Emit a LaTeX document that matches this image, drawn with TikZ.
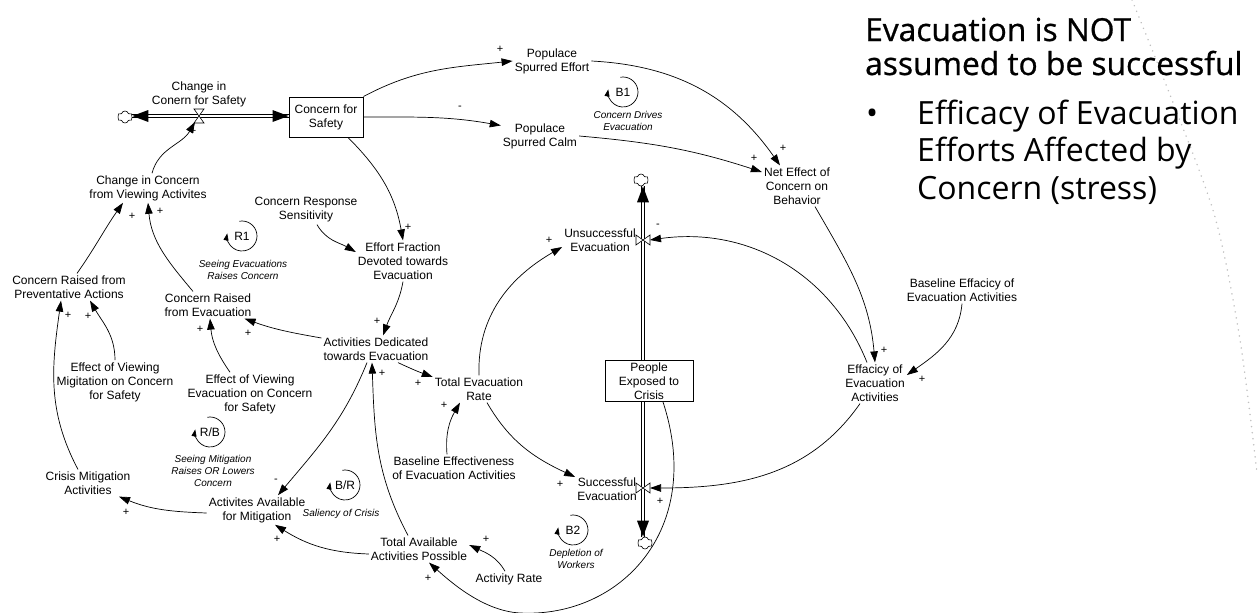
\documentclass[tikz,border=0pt]{standalone}
\usepackage{fontspec}
\setmainfont{Liberation Sans}
\newfontfamily\osans{Open Sans}
\newfontfamily\osanst[FakeBold=0.8]{Open Sans}
\usetikzlibrary{arrows.meta,shapes.symbols,calc}
\newcommand\vfnt{\fontsize{12}{14}\selectfont}
\newcommand\lfnt{\fontsize{10}{12}\selectfont\itshape}
\newcommand\pfnt{\fontsize{11}{12}\selectfont}
\newcommand\tfnt{\fontsize{31.7}{32}\selectfont}
\newcommand\bfnt{\fontsize{32}{32}\selectfont}
\begin{document}
\begin{tikzpicture}[x=1pt,y=1pt,
  var/.style={align=center, font=\vfnt, inner sep=2pt},
  stockbox/.style={draw, line width=1pt, align=center, font=\vfnt, inner sep=1pt},
  lnk/.style={line width=0.7pt, -{Triangle[length=11pt,width=7.5pt]}},
  looparr/.style={line width=0.7pt, -{Triangle[length=7pt,width=5pt]}},
  pol/.style={font=\pfnt, inner sep=0pt},
  looplbl/.style={align=center, font=\lfnt, inner sep=0pt},
  loopid/.style={font=\vfnt, inner sep=0pt},
  pipe/.style={line width=0.7pt, double, double distance=2.6pt},
  cloudnode/.style={cloud, draw, cloud puffs=6, minimum width=15pt, minimum height=12pt, inner sep=0pt, line width=0.6pt},
  valve/.style={draw, fill=white, line width=0.6pt},
  rtext/.style={anchor=base west, inner sep=0pt},
  ftip/.pic={\fill (0,0) -- (-16,6) -- (-16,-6) -- cycle;},
  loopsym/.pic={\draw[looparr] (100:15) arc[start angle=100,end angle=-190,radius=15];}
]
\useasboundingbox (0,0) rectangle (1259,-613);

% dotted slide border
\draw[gray!50, line width=1.6pt, line cap=round, dash pattern=on 0.1pt off 6pt]
  plot[smooth] coordinates {(1132,0) (1172,-100) (1215,-217) (1240,-340) (1257,-473)};

% ---------- nodes ----------
\node[cloudnode] (cloudL) at (125,-117) {};
\node[stockbox, minimum width=74pt, minimum height=40pt] (csafe) at (326,-117) {Concern for\\Safety};
\coordinate (vC) at (199,-116);
\node[var] (chlbl) at (199,-94) {Change in\\Conern for Safety};

\node[var] (chview) at (148,-188) {Change in Concern\\from Viewing Activites};
\node[var] (crprev) at (69,-287) {Concern Raised from\\Preventative Actions};
\node[var] (crevac) at (208,-305) {Concern Raised\\from Evacuation};
\node[var] (effmig) at (115,-382) {Effect of Viewing\\Migitation on Concern\\for Safety};
\node[var] (effevac) at (250,-394) {Effect of Viewing\\Evacuation on Concern\\for Safety};
\node[var] (crisis) at (88,-483) {Crisis Mitigation\\Activities};
\node[var] (avail) at (257,-510) {Activites Available\\for Mitigation};
\node[var] (total) at (419,-549) {Total Available\\Activities Possible};
\node[var] (actrate) at (509,-579) {Activity Rate};
\node[var] (crs) at (306,-210) {Concern Response\\Sensitivity};
\node[var] (efffrac) at (403,-261) {Effort Fraction\\Devoted towards\\Evacuation};
\node[var] (actded) at (376,-349) {Activities Dedicated\\towards Evacuation};
\node[var] (ter) at (479,-389) {Total Evacuation\\Rate};
\node[var] (bee) at (454,-468) {Baseline Effectiveness\\of Evacuation Activities};
\node[var] (succ) at (607,-489) {Successful\\Evacuation};
\node[var] (unsucc) at (600,-240) {Unsuccessful\\Evacuation};
\node[stockbox, minimum width=88pt, minimum height=41pt] (people) at (649,-381) {People\\Exposed to\\Crisis};
\node[cloudnode] (cloudT) at (641,-180) {};
\node[cloudnode] (cloudB) at (645,-543) {};
\coordinate (vU) at (643,-240);
\coordinate (vS) at (643,-488);
\node[var] (pse) at (552,-61) {Populace\\Spurred Effort};
\node[var] (psc) at (540,-136) {Populace\\Spurred Calm};
\node[var] (neteff) at (797,-186) {Net Effect of\\Concern on\\Behavior};
\node[var] (efficacy) at (875,-383) {Effacicy of\\Evacuation\\Activities};
\node[var] (beff) at (962,-290) {Baseline Effacicy of\\Evacuation Activities};

% ---------- flows ----------
\draw[pipe] (cloudL.east |- vC) -- (csafe.west |- vC);
\pic[rotate=180] at (cloudL.east |- vC) {ftip};
\pic at (csafe.west |- vC) {ftip};
\draw[valve] ($(vC)+(-5,7)$) -- ++(10,0) -- ++(-10,-14) -- ++(10,0) -- cycle;

\draw[pipe] (people.north -| vU) -- (cloudT.south -| vU);
\pic[rotate=90] at (cloudT.south -| vU) {ftip};
\draw[pipe] (people.south -| vU) -- (cloudB.north -| vU);
\pic[rotate=-90] at (cloudB.north -| vU) {ftip};
\draw[valve] ($(vU)+(-7,5)$) -- ++(0,-10) -- ++(14,10) -- ++(0,-10) -- cycle;
\draw[valve] ($(vS)+(-7,5)$) -- ++(0,-10) -- ++(14,10) -- ++(0,-10) -- cycle;

% ---------- links ----------
\draw[lnk] (csafe.north east) to[out=28,in=186] (pse.west);
\node[pol] (p1) at (500,-49) {+};
\draw[lnk] (csafe.east) to[out=0,in=170] (psc.165);
\node[pol] (p2) at (460,-108) {-};
\draw[lnk] (pse.east) to[out=-3,in=125] ([xshift=-17pt]neteff.north);
\node[pol] (p3) at (783,-148) {+};
\draw[lnk] (psc.east) to[out=-5,in=162] ([yshift=14pt]neteff.west);
\node[pol] (p4) at (754,-158) {+};
\draw[lnk] ([xshift=18pt]neteff.south) to[out=-60,in=95] (efficacy.north);
\node[pol] (p5) at (884,-350) {+};
\draw[lnk] (beff.south) to[out=-95,in=35] ([yshift=8pt]efficacy.east);
\node[pol] (p6) at (922,-379) {+};
\draw[lnk] ([xshift=-8pt]efficacy.north) to[out=112,in=8] ($(vU)+(7,0)$);
\node[pol] (p7) at (658,-226) {-};
\draw[lnk] ([xshift=-15pt]efficacy.south) to[out=-125,in=0] ($(vS)+(7,0)$);
\node[pol] (p8) at (660,-501) {+};
\draw[lnk] (ter.north) to[out=92,in=210] ([yshift=-7pt]unsucc.west);
\node[pol] (p9) at (549,-240) {+};
\draw[lnk] ([xshift=8pt]ter.south) to[out=-60,in=155] ([yshift=12pt]succ.west);
\node[pol] (p10) at (560,-484) {+};
\draw[lnk] ([xshift=22pt]actded.south) to[out=-25,in=160] ([yshift=12pt]ter.west);
\node[pol] (p11) at (418,-383) {+};
\draw[lnk] (efffrac.south) to[out=-100,in=70] ([xshift=7pt]actded.north);
\node[pol] (p12) at (377,-321) {+};
\draw[lnk] ([xshift=22pt]csafe.south) to[out=-45,in=100] (efffrac.north);
\node[pol] (p13) at (408,-227) {+};
\draw[lnk] ([xshift=11pt]crs.south) to[out=-60,in=150] ([yshift=9pt]efffrac.west);
\draw[lnk] ([xshift=4pt]chview.north) to[out=75,in=-120] ($(vC)+(-4,-6)$);
\node[pol] (p14) at (193,-131) {+};
\draw[lnk] ([xshift=8pt]crprev.north) to[out=55,in=-125] ([xshift=-25pt]chview.south);
\node[pol] (p15) at (132,-216) {+};
\draw[lnk] ([xshift=-15pt]crevac.north) to[out=130,in=-85] (chview.south);
\node[pol] (p16) at (160,-211) {+};
\draw[lnk] ([yshift=11pt]actded.west) to[out=170,in=-20] ([xshift=-9pt]crevac.south east);
\node[pol] (p17) at (248,-333) {+};
\draw[lnk] ([xshift=-20pt]effevac.north) to[out=125,in=-85] ([xshift=2pt]crevac.south);
\node[pol] (p18) at (200,-329) {+};
\draw[lnk] (effmig.north) to[out=90,in=-60] ([xshift=21pt]crprev.south);
\node[pol] (p19) at (88,-316) {+};
\draw[lnk] ([xshift=-10pt]crisis.north) to[out=118,in=-98] ([xshift=-8pt]crprev.south);
\node[pol] (p20) at (68,-315) {+};
\draw[lnk] ([yshift=-3pt]avail.west) to[out=178,in=-22] ([xshift=31pt]crisis.south);
\node[pol] (p21) at (126,-512) {+};
\draw[lnk] ([xshift=-9pt]actded.south) to[out=-112,in=50] ([xshift=21pt]avail.north);
\node[pol] (p22) at (276,-481) {-};
\draw[lnk] ([xshift=-11pt]total.north) to[out=118,in=-88] ([xshift=-4pt]actded.south);
\node[pol] (p23) at (382,-373) {+};
\draw[lnk] ([yshift=-5pt]total.west) to[out=178,in=-32] ([xshift=18pt]avail.south);
\node[pol] (p24) at (277,-539) {+};
\draw[lnk] ([xshift=-4pt]actrate.north) to[out=120,in=-25] ([yshift=4pt]total.east);
\node[pol] (p25) at (486,-539) {+};
\draw[lnk] ([xshift=14pt]people.south) .. controls (705,-530) and (620,-618) .. (520,-613)
  .. controls (485,-611) and (454,-585) .. ([xshift=10pt]total.south);
\node[pol] (p26) at (428,-578) {+};
\draw[lnk] ([xshift=-7pt]bee.north) to[out=95,in=-120] ([xshift=-19pt]ter.south);
\node[pol] (p27) at (444,-405) {+};

% ---------- loops ----------
\pic at (623,-92) {loopsym};  \node[loopid] (B1) at (623,-92) {B1};
\node[looplbl] (B1l) at (628,-121) {Concern Drives\\Evacuation};
\pic at (242,-236) {loopsym}; \node[loopid] (R1) at (242,-236) {R1};
\node[looplbl] (R1l) at (243,-270) {Seeing Evacuations\\Raises Concern};
\pic at (210,-432) {loopsym}; \node[loopid] (RB) at (210,-432) {R/B};
\node[looplbl] (RBl) at (213,-471) {Seeing Mitigation\\Raises OR Lowers\\Concern};
\pic at (345,-485) {loopsym}; \node[loopid] (BR) at (345,-485) {B/R};
\node[looplbl] (BRl) at (341,-514) {Saliency of Crisis};
\pic at (573,-530) {loopsym}; \node[loopid] (B2) at (573,-530) {B2};
\node[looplbl] (B2l) at (576,-559) {Depletion of\\Workers};

% ---------- slide text ----------
\node[rtext, font=\osanst\tfnt] (t1) at (865,-41) {Evacuation is NOT};
\node[rtext, font=\osanst\tfnt] (t2) at (865,-75) {assumed to be successful};
\node[rtext, font=\osans\bfnt] (bul) at (866,-124) {•};
\node[rtext, font=\osans\bfnt] (b1) at (917,-124) {Efficacy of Evacuation};
\node[rtext, font=\osans\bfnt] (b2) at (917,-161) {Efforts Affected by};
\node[rtext, font=\osans\bfnt] (b3) at (917,-199) {Concern (stress)};
\end{tikzpicture}
\end{document}
